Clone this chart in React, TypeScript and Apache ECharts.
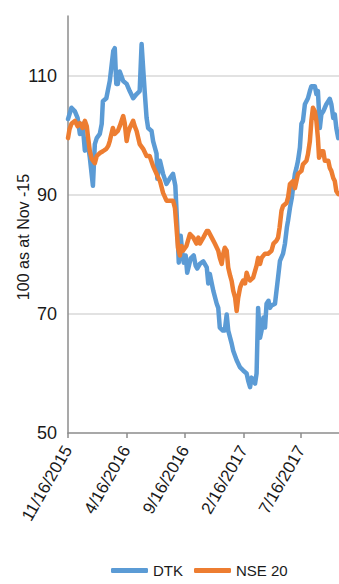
import React, { useEffect, useRef } from "react";
import * as echarts from "echarts";

// Base date of the index (100 = Nov-15)
const BASE_DATE = "2015-11-16";

// x-axis tick labels (dates)
const tickLabels = ["11/16/2015", "4/16/2016", "9/16/2016", "2/16/2017", "7/16/2017"];
// axis end date
const AXIS_END = "2017-10-23";

// DTK: days since base date, and index values
const dtkDays = [
  0, 9, 18, 25, 31, 38, 44, 51, 57, 65, 70, 75, 83, 88, 91, 100, 109, 118, 122, 126,
  130, 135, 144, 153, 161, 170, 179, 187, 192, 196, 200, 205, 209, 218, 222, 231, 233, 240, 248, 257,
  266, 274, 280, 285, 289, 294, 298, 302, 307, 311, 320, 328, 333, 337, 344, 353, 362, 366, 370, 379,
  388, 392, 396, 404, 409, 414, 418, 427, 431, 440, 449, 457, 466, 470, 475, 479, 483, 488, 492, 496,
  501, 505, 510, 514, 518, 523, 527, 531, 540, 548, 553, 561, 566, 571, 574, 579, 584, 587, 592, 596,
  600, 605, 609, 613, 618, 622, 626, 631, 635, 644, 648, 652, 657, 661, 666, 670, 674, 679, 683, 687,
  692, 696, 700, 705,
];
const dtkValues = [
  102.7, 104.6, 104.0, 102.9, 100.2, 101.9, 97.4, 99.0, 96.2, 91.5, 98.5, 99.5, 100.2, 101.9, 105.7, 106.2, 109.1, 114.1, 114.6, 108.6,
  108.6, 110.7, 109.1, 108.6, 107.4, 106.2, 106.9, 107.4, 115.3, 111.3, 107.4, 102.9, 101.2, 100.7, 99.0, 96.9, 92.7, 95.7, 93.5, 91.8,
  92.8, 93.5, 91.5, 84.8, 78.6, 83.1, 80.3, 78.6, 79.8, 76.9, 79.3, 79.8, 78.1, 77.6, 78.4, 78.8, 77.8, 75.1, 76.7, 73.9,
  71.7, 71.0, 67.7, 67.2, 67.2, 69.9, 67.2, 65.0, 63.8, 62.2, 61.0, 60.5, 60.0, 58.8, 57.7, 59.3, 58.8, 58.3, 60.0, 71.0,
  66.0, 67.2, 69.4, 67.7, 71.7, 72.2, 71.0, 71.4, 71.7, 76.1, 78.9, 80.1, 81.8, 84.5, 85.6, 87.8, 89.5, 91.1, 93.5, 94.5,
  95.7, 97.9, 101.9, 102.4, 105.2, 105.7, 106.2, 107.4, 108.2, 108.2, 106.9, 107.4, 101.2, 103.5, 104.0, 104.6, 105.2, 105.7, 106.1, 105.2,
  102.9, 103.5, 101.2, 99.5,
];

// NSE 20: days since base date, and index values
const nseDays = [
  0, 4, 9, 18, 25, 31, 38, 44, 49, 52, 57, 62, 70, 75, 83, 91, 100, 105, 109, 117,
  122, 130, 135, 144, 148, 153, 157, 161, 170, 174, 179, 187, 196, 205, 213, 222, 233, 240, 248, 257,
  266, 274, 279, 283, 287, 292, 296, 300, 309, 318, 327, 335, 340, 344, 353, 362, 366, 375, 383, 392,
  396, 401, 405, 409, 414, 418, 423, 427, 431, 436, 440, 444, 449, 453, 457, 462, 466, 470, 475, 483,
  492, 496, 501, 505, 514, 522, 531, 536, 544, 548, 552, 557, 561, 570, 574, 579, 587, 592, 596, 600,
  609, 613, 622, 626, 631, 635, 639, 644, 648, 652, 655, 661, 666, 670, 679, 683, 687, 692, 696, 700,
  705,
];
const nseValues = [
  99.5, 101.0, 101.9, 102.4, 101.5, 102.0, 101.2, 102.4, 101.5, 99.8, 97.3, 96.0, 95.3, 96.5, 97.0, 97.3, 97.7, 98.2, 99.0, 101.2,
  100.2, 100.7, 101.5, 103.2, 102.0, 99.0, 100.4, 101.2, 102.4, 101.5, 100.7, 98.5, 97.7, 96.5, 96.5, 94.8, 93.2, 92.3, 90.3, 89.0,
  89.0, 89.0, 87.8, 84.5, 81.1, 79.8, 81.4, 80.6, 81.4, 83.4, 82.8, 81.8, 82.8, 81.8, 82.8, 83.9, 83.9, 82.8, 81.8, 80.6,
  79.4, 78.4, 80.1, 81.1, 80.6, 77.8, 76.4, 75.5, 73.9, 72.7, 70.5, 72.7, 74.4, 75.1, 75.6, 75.1, 76.9, 76.1, 75.6, 76.1,
  78.1, 79.4, 78.4, 79.4, 80.1, 80.1, 80.6, 81.8, 82.3, 82.8, 84.5, 87.3, 88.1, 88.6, 89.5, 91.8, 92.3, 91.1, 92.3, 93.5,
  94.0, 95.1, 95.7, 96.8, 99.0, 102.4, 104.6, 104.0, 102.4, 99.5, 96.2, 97.3, 97.3, 95.7, 95.7, 94.5, 94.0, 92.8, 92.3, 90.6,
  90.1,
];

const DAY = 86400000;
function parseIso(s: string): number {
  const [y, m, d] = s.split("-").map(Number);
  return Date.UTC(y, m - 1, d);
}
function parseUs(s: string): number {
  const [m, d, y] = s.split("/").map(Number);
  return Date.UTC(y, m - 1, d);
}
function fmt(ts: number): string {
  const d = new Date(ts);
  return `${d.getUTCMonth() + 1}/${d.getUTCDate()}/${d.getUTCFullYear()}`;
}

const FONT = "'Liberation Sans', Arial, sans-serif";

export default function App() {
  const ref = useRef<HTMLDivElement>(null);
  useEffect(() => {
    if (!ref.current) return;
    const chart = echarts.init(ref.current, undefined, { renderer: "svg" });
    const base = parseIso(BASE_DATE);
    const toSeries = (days: number[], vals: number[]) =>
      days.map((d, i) => [base + d * DAY, vals[i]]);
    const tickTs = tickLabels.map(parseUs);
    chart.setOption({
      animation: false,
      backgroundColor: "#ffffff",
      grid: { left: 68, right: 0, top: 16, bottom: 151, containLabel: false },
      legend: {
        left: 111,
        top: 563,
        padding: 0,
        icon: "roundRect",
        itemWidth: 37,
        itemHeight: 5,
        itemGap: 11,
        textStyle: { fontFamily: FONT, fontSize: 15, color: "#1a1a1a" },
        data: ["DTK", "NSE 20"],
      },
      xAxis: {
        type: "value",
        min: base,
        max: parseIso(AXIS_END),
        axisLine: { show: true, onZero: false, lineStyle: { color: "#8c8c8c", width: 1.5 } },
        axisTick: { show: true, length: 5, customValues: tickTs, lineStyle: { color: "#8c8c8c", width: 1.5 } },
        splitLine: { show: false },
        axisLabel: {
          customValues: tickTs,
          rotate: 60,
          margin: 14,
          fontFamily: FONT,
          fontSize: 17,
          color: "#1a1a1a",
          formatter: (v: number) => fmt(v),
          hideOverlap: false,
        },
      },
      yAxis: {
        type: "value",
        min: 50,
        max: 120,
        interval: 20,
        axisLine: { show: true, lineStyle: { color: "#8c8c8c", width: 1.5 } },
        axisTick: { show: false },
        axisLabel: {
          margin: 11,
          fontFamily: FONT,
          fontSize: 18,
          color: "#1a1a1a",
          showMaxLabel: false,
        },
        splitLine: {
          show: true,
          showMinLine: false,
          showMaxLine: false,
          lineStyle: { color: "#d9d9d9", width: 1.5 },
        },
      },
      graphic: [
        {
          type: "text",
          x: 23,
          y: 237,
          rotation: Math.PI / 2,
          style: {
            text: "100 as at Nov -15",
            font: "16px 'Liberation Sans', Arial, sans-serif",
            fill: "#1a1a1a",
            align: "center",
            verticalAlign: "middle",
          },
        },
      ],
      series: [
        {
          name: "DTK",
          type: "line",
          data: toSeries(dtkDays, dtkValues),
          showSymbol: false,
          symbol: "none",
          color: "#5B9BD5",
          lineStyle: { width: 4.5, color: "#5B9BD5", cap: "round", join: "round" },
        },
        {
          name: "NSE 20",
          type: "line",
          data: toSeries(nseDays, nseValues),
          showSymbol: false,
          symbol: "none",
          color: "#ED7D31",
          lineStyle: { width: 4.5, color: "#ED7D31", cap: "round", join: "round" },
        },
      ],
    });
    return () => chart.dispose();
  }, []);
  return (
    <div
      ref={ref}
      style={{ position: "absolute", left: 0, top: 0, width: 339, height: 584 }}
    />
  );
}
